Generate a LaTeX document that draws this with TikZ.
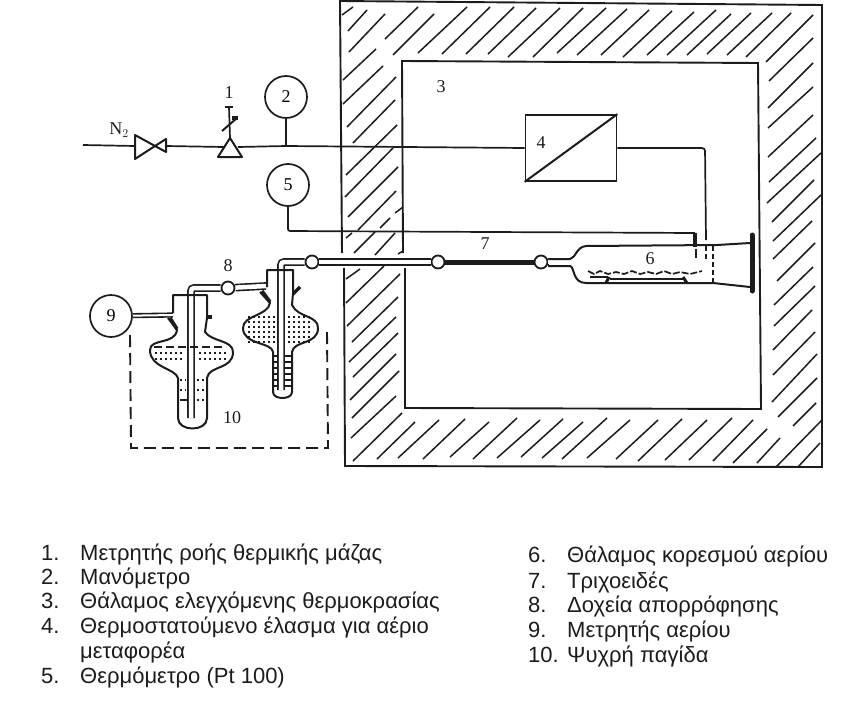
\documentclass[tikz,border=0pt]{standalone}
\usepackage{fontspec}
\setmainfont{Liberation Serif}
\newfontfamily\listfont{Liberation Sans}
\usepackage{xcolor}
\definecolor{ink}{HTML}{1C1C1C}

\begin{document}
\begin{tikzpicture}[
  x=1pt, y=-1pt,
  wall/.style={draw=ink, line width=1.9pt},
  hatch/.style={draw=ink, line width=1.5pt},
  pipe/.style={draw=ink, line width=1.7pt},
  tube/.style={draw=ink, line width=1.6pt, double=white, double distance=4.5pt, rounded corners=3pt},
  glass/.style={draw=ink, line width=2pt, line join=round},
  liquid/.style={draw=ink, line width=1.5pt, dash pattern=on 2pt off 3pt},
  gauge/.style={circle, draw=ink, line width=1.7pt, fill=white, minimum size=42pt, inner sep=0pt, font=\fontsize{18}{18}\selectfont},
  box/.style={rectangle, draw=ink, line width=1.7pt, fill=white, minimum width=91pt, minimum height=66pt},
  joint/.style={circle, draw=ink, line width=1.8pt, fill=white, minimum size=13pt, inner sep=0pt},
  tag/.style={text=ink, font=\fontsize{18}{18}\selectfont},
  item/.style={anchor=base west, text=ink, inner sep=0pt, font=\listfont\fontsize{22}{22}\selectfont}
]
\useasboundingbox (0,0) rectangle (866,701);

% Hatching of the insulated wall
\foreach \xa/\ya/\xb/\yb in {
  342/15/353/7, 348/31/367/10, 349/52/385/14, 385/39/418/7, 393/55/434/14,
  418/53/467/7, 442/54/490/7, 466/54/514/7, 488/54/536/8, 508/57/560/8,
  533/57/583/8, 557/53/606/8, 577/55/627/9, 601/55/649/10, 623/57/672/11,
  647/55/694/12, 667/55/716/10, 687/55/731/14, 707/54/751/13, 727/55/772/13,
  746/57/791/13, 766/62/813/15, 769/81/813/38, 768/108/813/63, 768/128/813/87,
  768/157/813/115, 769/182/816/138, 767/203/821/153, 772/222/814/180,
  773/241/821/195, 773/259/812/221, 777/281/815/243, 774/305/813/267,
  774/326/815/286, 773/350/812/310, 773/375/815/332, 772/402/817/354,
  778/417/817/378, 793/426/816/403, 776/467/822/420, 798/467/820/443,
  757/463/780/438, 733/463/767/429, 713/461/753/420, 689/460/732/418,
  665/460/707/420, 638/461/682/419, 616/459/658/420, 587/458/630/420,
  562/459/607/418, 542/458/583/422, 521/457/563/419, 497/458/540/420,
  473/459/517/418, 450/457/489/422, 423/459/465/419, 398/458/439/420,
  377/459/415/422, 353/461/402/413, 351/438/396/396, 352/418/399/371,
  350/400/396/354, 353/377/398/333, 349/362/396/317, 352/342/398/297,
  347/326/400/274, 346/303/384/266, 346/279/360/269, 346/238/352/233,
  354/253/375/232, 375/255/395/233, 398/254/403/251, 358/230/396/191,
  380/228/390/218, 395/213/403/207, 348/217/398/167, 345/197/393/148,
  346/175/397/125, 353/143/395/100, 347/127/396/77, 343/104/383/66, 343/80/376/49
} {
  \draw[hatch] (\xa,\ya) -- (\xb,\yb);
}

% Outer and inner walls, open where the capillary passes
\draw[wall] (342,253) -- (340,1) -- (822,5) -- (822,467) -- (345,466) -- (344,268);
\draw[wall] (403,253) -- (402,61) -- (758,63) -- (761,409) -- (405,408) -- (405,268);

% Gas line
\coordinate (n2in) at (83,145);
\coordinate (valveL) at (135,146);
\coordinate (valveM) at (155,146);
\coordinate (valveR) at (166,146);
\coordinate (flowL) at (224,147);
\coordinate (flowR) at (238,147);
\coordinate (tee2) at (286,146);
\node[box] (plate) at (571,148) {};
\draw[glass] (plate.south west) -- (plate.north east);
\draw[pipe] (n2in) -- (valveL);
\draw[pipe] (valveR) -- (flowL);
\draw[pipe] (flowR) -- (tee2) -- (plate.west);

% Valve and flow meter
\draw[glass, fill=white] (135,135) -- (135,159) -- (valveM) -- cycle;
\draw[glass, fill=white] (166,139) -- (166,152) -- (valveM) -- cycle;
\draw[glass, fill=white] (230,138) -- (218,157) -- (242,157) -- cycle;
\draw[pipe] (230,138) -- (229,107);
\draw[glass] (225,107) -- (233,107);
\draw[glass] (222,131) -- (237,118);
\draw[glass, line width=3.5pt] (232,118) -- (238,118);

% Manometer and thermometer
\node[gauge] (mano) at (286,97) {2};
\node[gauge] (thermo) at (288,185) {5};
\draw[pipe] (mano) -- (tee2);
\coordinate (sensorT) at (695,233);
\draw[pipe, rounded corners=2pt] (thermo) -- (288,231) -- (sensorT);
\draw[draw=ink, line width=4pt] (sensorT) -- (695,247);
\draw[pipe, dash pattern=on 9pt off 3pt] (696,249) -- (696,259);

% Outlet of the carrier gas plate
\coordinate (inletE) at (706,240);
\draw[pipe, rounded corners=3pt] (plate.east) -- (705,148) -- (inletE);
\draw[pipe, dash pattern=on 5pt off 3pt] (706,246) -- (706,260);

% Saturation chamber
\draw[glass] (548,259) -- (570,259) .. controls (576,258) and (576,247) .. (586,246) -- (717,245) -- (750,243);
\draw[glass] (548,266) -- (570,266) .. controls (575,267) and (572,283) .. (586,283) -- (713,283) -- (750,287);
\draw[pipe, dash pattern=on 5pt off 3pt] (713,246) -- (713,283);
\draw[draw=ink, line width=5pt, line cap=round] (752,235) -- (752,291);
\draw[pipe, dash pattern=on 7pt off 2pt] (588,271) -- (594,274) -- (600,271) -- (608,274) -- (616,272) -- (624,274) -- (632,271) -- (640,274) -- (648,272) -- (656,274) -- (664,271) -- (672,274) -- (680,272) -- (690,274) -- (702,271);
\draw[pipe] (590,277) -- (608,277);
\draw[pipe] (610,279) -- (683,279);
\draw[glass, line width=3pt] (609,277) -- (606,283);
\draw[glass, line width=3pt] (683,277) -- (687,283);

% Capillary and its joints
\node[joint] (jointA) at (312,262) {};
\node[joint] (jointB) at (438,262) {};
\node[joint] (jointC) at (541,262) {};
\node[joint] (jointD) at (228,288) {};
\draw[draw=ink, line width=5pt] (jointB) -- (jointC);
\draw[tube] (jointC) -- (549,262);
\draw[tube] (jointB) -- (jointA);
\draw[tube] (jointA) -- (281,262) -- (281,390);
\draw[tube] (jointD) -- (266,286);
\draw[tube] (jointD) -- (191,288) -- (191,418);

% Right absorption vessel
\draw[glass] (267,287) -- (267,270) -- (293,270) -- (293,293) -- (292,305)
  .. controls (298,318) and (318,315) .. (318,328)
  .. controls (318,345) and (294,340) .. (292,352)
  -- (292,392) .. controls (292,400) and (273,400) .. (273,392) -- (273,352)
  .. controls (272,342) and (243,345) .. (243,328)
  .. controls (243,315) and (268,316) .. (270,303) -- (260,292);
\draw[glass, line width=3.5pt] (293,294) -- (300,287);
\draw[glass, line width=3.5pt] (262,291) -- (270,302);
\foreach \yy in {317,322,327,332,337,342} {
  \draw[liquid] (248,\yy) -- (276,\yy);
  \draw[liquid] (288,\yy) -- (313,\yy);
}
\foreach \yy in {356,362,368,374,380,386} {
  \draw[pipe, line width=1.2pt] (274,\yy) -- (278,\yy);
  \draw[pipe, line width=1.2pt] (285,\yy) -- (291,\yy);
}

% Left absorption vessel with the cold trap
\draw[glass] (173,313) -- (173,295) -- (207,295) -- (207,318) -- (205,332)
  .. controls (212,342) and (233,340) .. (233,352)
  .. controls (233,370) and (209,365) .. (207,378)
  -- (207,418) .. controls (207,432) and (178,432) .. (178,418) -- (178,378)
  .. controls (175,368) and (150,368) .. (150,350)
  .. controls (150,338) and (175,345) .. (177,330) -- (168,318);
\draw[glass, line width=3.5pt] (207,317) -- (212,317);
\draw[glass, line width=3.5pt] (170,318) -- (177,329);
\draw[pipe, dash pattern=on 8pt off 4pt] (154,347) -- (226,347);
\foreach \yy in {353,359} {
  \draw[liquid] (155,\yy) -- (183,\yy);
  \draw[liquid] (199,\yy) -- (227,\yy);
}
\foreach \yy in {380,390,400} {
  \draw[liquid] (180,\yy) -- (186,\yy);
  \draw[liquid] (197,\yy) -- (205,\yy);
}
\draw[draw=ink, line width=1.2pt] (180,400) -- (187,400);
\node[gauge] (meter) at (111,316) {9};
\draw[tube, double distance=2pt] (meter) -- (173,315);
\draw[draw=ink, line width=1.9pt, dash pattern=on 12pt off 6pt]
  (130,335) -- (131,448) -- (328,448) -- (327,332);

% Labels on the apparatus
\node[tag] (lblN) at (119,130) {N$_2$};
\node[tag] (lblA) at (229,93) {1};
\node[tag] (lblC) at (441,87) {3};
\node[tag] (lblD) at (541,143) {4};
\node[tag] (lblF) at (650,259) {6};
\node[tag] (lblG) at (485,244) {7};
\node[tag] (lblH) at (228,266) {8};
\node[tag] (lblJ) at (232,418) {10};

% Key, left column
\foreach \yy/\num/\txt in {
  560/1./Μετρητής ροής θερμικής μάζας,
  584/2./Μανόμετρο,
  608/3./Θάλαμος ελεγχόμενης θερμοκρασίας,
  633/4./Θερμοστατούμενο έλασμα για αέριο,
  658//μεταφορέα,
  683/5./Θερμόμετρο (Pt 100)
} {
  \node[item] at (41,\yy) {\num};
  \node[item] at (80,\yy) {\txt};
}

% Key, right column
\foreach \yy/\num/\txt in {
  562/6./Θάλαμος κορεσμού αερίου,
  588/7./Τριχοειδές,
  612/8./Δοχεία απορρόφησης,
  637/9./Μετρητής αερίου,
  662/10./Ψυχρή παγίδα
} {
  \node[item] at (528,\yy) {\num};
  \node[item] at (567,\yy) {\txt};
}
\end{tikzpicture}
\end{document}
